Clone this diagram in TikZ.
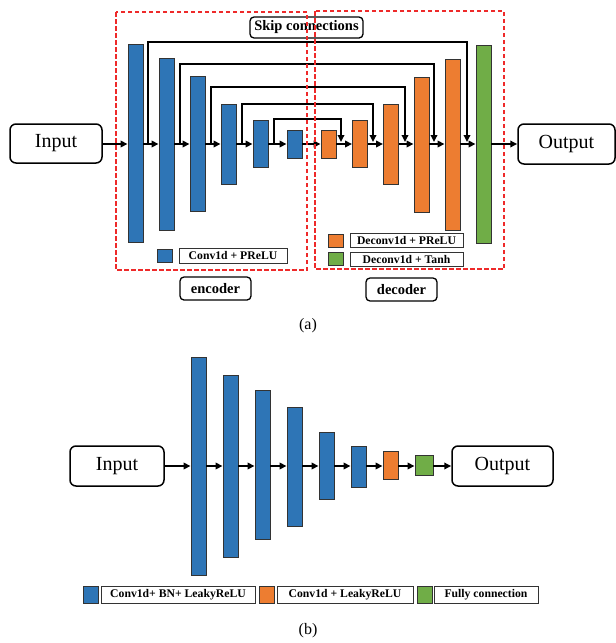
\documentclass[tikz,border=0pt]{standalone}
\usepackage{fontspec}
\setmainfont{Liberation Serif}
\usetikzlibrary{arrows.meta,calc}
\definecolor{cblue}{HTML}{2E75B6}
\definecolor{corange}{HTML}{ED7D31}
\definecolor{cgreen}{HTML}{70AD47}
\definecolor{cred}{HTML}{EE2A2A}
\tikzset{
  bar/.style={draw=black!80, line width=0.9pt, minimum width=15pt, inner sep=0pt},
  blk/.style={bar, fill=cblue},
  ork/.style={bar, fill=corange},
  grk/.style={bar, fill=cgreen},
  iobox/.style={draw, line width=1.5pt, rounded corners=6pt, inner sep=0pt, font=\fontsize{20}{22}\selectfont},
  tagbox/.style={draw, line width=1.3pt, rounded corners=4pt, inner sep=0pt, font=\bfseries\fontsize{14.5}{16}\selectfont},
  legsq/.style={draw=black!80, line width=0.9pt, minimum width=15pt, minimum height=12.5pt, inner sep=0pt},
  legtxt/.style={draw=black!80, line width=0.9pt, inner sep=0pt, font=\bfseries\fontsize{11.7}{13}\selectfont},
  arr/.style={line width=2pt, -{Triangle[length=7pt,width=6.5pt]}},
  skip/.style={line width=1.7pt, -{Triangle[length=7pt,width=6.5pt]}},
  redbox/.style={draw=cred, line width=1.4pt, dash pattern=on 4.5pt off 2.5pt},
  captxt/.style={font=\fontsize{16}{18}\selectfont}
}
\begin{document}
\begin{tikzpicture}[x=1pt,y=-1pt]
\useasboundingbox (0,0) rectangle (616,643);
% ===== (a) =====
\node[iobox, minimum width=92pt, minimum height=39pt] (in) at (56,143.5) {Input};
\node[iobox, minimum width=97pt, minimum height=40pt] (out) at (566.5,144) {Output};
\node[blk, minimum height=198pt] (e1) at (135.5,143) {};
\node[blk, minimum height=172pt] (e2) at (166.5,144) {};
\node[blk, minimum height=135pt] (e3) at (197.5,143.5) {};
\node[blk, minimum height=80pt] (e4) at (228.5,144) {};
\node[blk, minimum height=47pt] (e5) at (260.5,143.5) {};
\node[blk, minimum height=28pt] (e6) at (294.5,144) {};
\node[ork, minimum height=28pt] (d1) at (328.5,144) {};
\node[ork, minimum height=47pt] (d2) at (360,143.5) {};
\node[ork, minimum height=80pt] (d3) at (391,144) {};
\node[ork, minimum height=135pt] (d4) at (421.5,144.5) {};
\node[ork, minimum height=171pt] (d5) at (452.5,144.5) {};
\node[grk, minimum height=198pt] (g1) at (483.5,144) {};
% main arrows
\draw[arr] (in.east |- 0,144) -- (e1.west |- 0,144);
\draw[arr] (e1.east |- 0,144) -- (e2.west |- 0,144);
\draw[arr] (e2.east |- 0,144) -- (e3.west |- 0,144);
\draw[arr] (e3.east |- 0,144) -- (e4.west |- 0,144);
\draw[arr] (e4.east |- 0,144) -- (e5.west |- 0,144);
\draw[arr] (e5.east |- 0,144) -- (e6.west |- 0,144);
\draw[arr] (e6.east) -- (d1.west);
\draw[arr] (d1.east) -- (d2.west |- d1.east);
\draw[arr] (d2.east |- d1.east) -- (d3.west |- d1.east);
\draw[arr] (d3.east) -- (d4.west |- d3.east);
\draw[arr] (d4.east |- d3.east) -- (d5.west |- d3.east);
\draw[arr] (d5.east |- d3.east) -- (g1.west);
\draw[arr] (g1.east) -- (out.west);
% skip connections
\coordinate (sa1) at (148,144); \coordinate (sb1) at (467,142);
\coordinate (sa2) at (180,144); \coordinate (sb2) at (434,142);
\coordinate (sa3) at (211,144); \coordinate (sb3) at (405,142);
\coordinate (sa4) at (242,144); \coordinate (sb4) at (373,142);
\coordinate (sa5) at (274,144); \coordinate (sb5) at (341,142);
\draw[skip] (sa1) -- (148,42) -| (sb1);
\draw[skip] (sa2) -- (180,64) -| (sb2);
\draw[skip] (sa3) -- (211,87) -| (sb3);
\draw[skip] (sa4) -- (242,104) -| (sb4);
\draw[skip] (sa5) -- (274,119) -| (sb5);
\node[tagbox, minimum width=113pt, minimum height=21pt] (skl) at (306.5,27.5) {Skip connections};
% legends
\node[legsq, fill=cblue] (lq1) at (164.5,256) {};
\node[legtxt, minimum width=108pt, minimum height=15pt] (lt1) at (233,255.5) {Conv1d + PReLU};
\node[legsq, fill=corange] (lq2) at (335.5,241) {};
\node[legtxt, minimum width=113pt, minimum height=14pt] (lt2) at (406.5,240) {Deconv1d + PReLU};
\node[legsq, fill=cgreen] (lq3) at (335.5,259) {};
\node[legtxt, minimum width=113pt, minimum height=14pt] (lt3) at (406.5,259) {Deconv1d + Tanh};
% red boxes
\draw[redbox] (116,12) rectangle (307,270);
\draw[redbox] (315,11) rectangle (504,269);
\node[tagbox, minimum width=71pt, minimum height=23pt] (enc) at (215.5,288.5) {encoder};
\node[tagbox, minimum width=71pt, minimum height=23pt] (dec) at (401.5,289.5) {decoder};
\node[captxt] (capa) at (308,326) {(a)};
% ===== (b) =====
\node[iobox, minimum width=94pt, minimum height=40pt] (in2) at (117,466) {Input};
\node[iobox, minimum width=101pt, minimum height=40pt] (out2) at (502.5,466) {Output};
\node[blk, minimum height=218pt] (b1) at (198.5,466) {};
\node[blk, minimum height=182pt] (b2) at (230.5,466) {};
\node[blk, minimum height=149pt] (b3) at (262.5,464.5) {};
\node[blk, minimum height=119pt] (b4) at (294.5,466.5) {};
\node[blk, minimum height=67pt] (b5) at (326.5,465.5) {};
\node[blk, minimum height=41pt] (b6) at (358.5,466.5) {};
\node[ork, minimum height=28pt] (b7) at (390.5,465) {};
\node[grk, minimum width=18pt, minimum height=20pt] (b8) at (424,465) {};
\draw[arr] (in2.east) -- (b1.west |- in2.east);
\draw[arr] (b1.east |- in2.east) -- (b2.west |- in2.east);
\draw[arr] (b2.east |- in2.east) -- (b3.west |- in2.east);
\draw[arr] (b3.east |- in2.east) -- (b4.west |- in2.east);
\draw[arr] (b4.east |- in2.east) -- (b5.west |- in2.east);
\draw[arr] (b5.east |- in2.east) -- (b6.west |- in2.east);
\draw[arr] (b6.east |- in2.east) -- (b7.west |- in2.east);
\draw[arr] (b7.east |- in2.east) -- (b8.west |- in2.east);
\draw[arr] (b8.east |- in2.east) -- (out2.west);
% legend (b)
\node[legsq, fill=cblue, minimum height=17pt] (lb1) at (90.5,594.5) {};
\node[legtxt, minimum width=154pt, minimum height=17pt] (lbt1) at (178,594.5) {Conv1d+ BN+ LeakyReLU};
\node[legsq, fill=corange, minimum height=17pt] (lb2) at (266.5,594.5) {};
\node[legtxt, minimum width=136pt, minimum height=17pt] (lbt2) at (345,594.5) {Conv1d + LeakyReLU};
\node[legsq, fill=cgreen, minimum height=17pt] (lb3) at (424.5,594.5) {};
\node[legtxt, minimum width=104pt, minimum height=17pt] (lbt3) at (486,594.5) {Fully connection};
\node[captxt] (capb) at (308,631) {(b)};
\end{tikzpicture}
\end{document}
